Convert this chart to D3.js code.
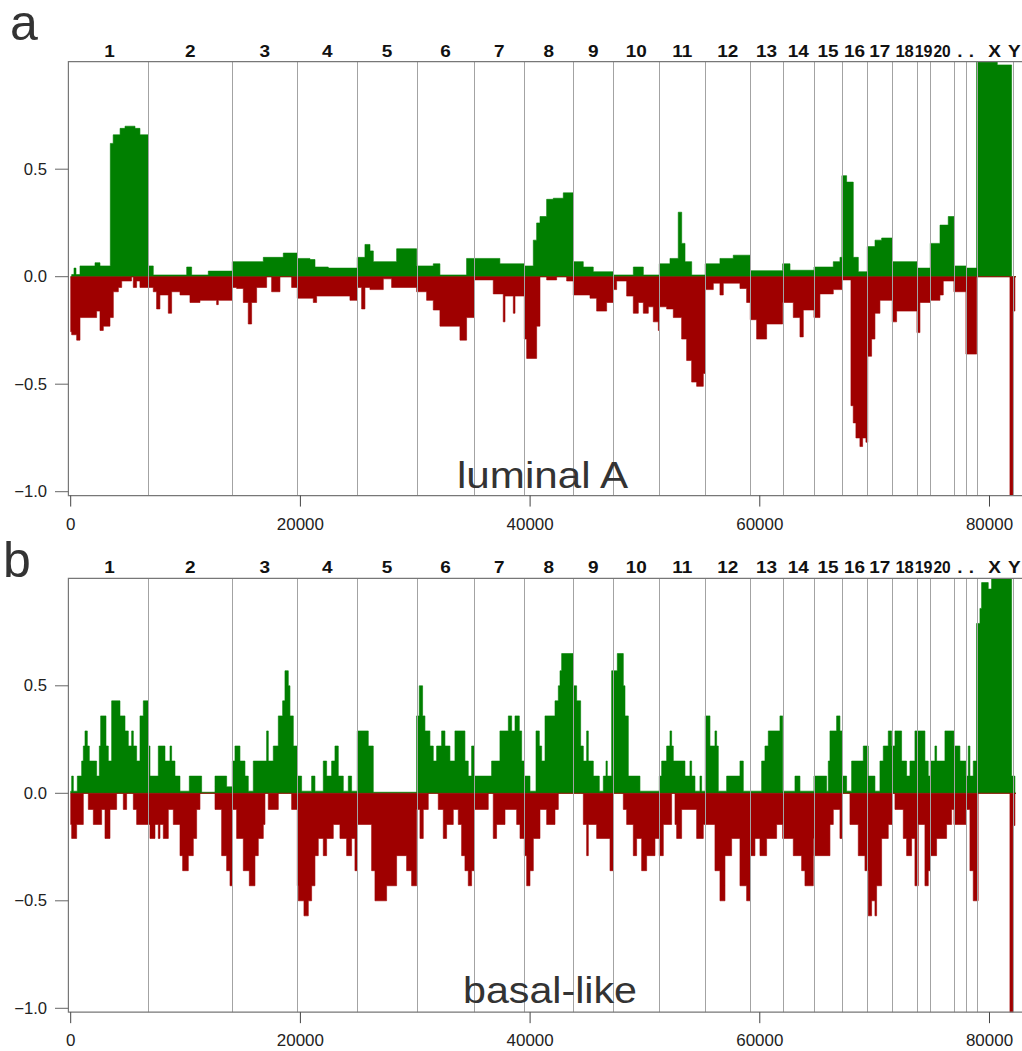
<!DOCTYPE html>
<html>
<head>
<meta charset="utf-8">
<script src="https://d3js.org/d3.v7.min.js"></script>
<style>
  body { margin: 0; background: #fff; }
  text { font-family: "Liberation Sans", Arial, sans-serif; }
</style>
</head>
<body>
<svg id="chart"></svg>
<script>
// chromosome start positions (gene index), last one is the Y start
var chromStarts = [0, 6760, 14070, 19730, 24950, 30120, 35140, 39500, 43760, 47250, 51250,
  55250, 59170, 61990, 64720, 67150, 69360, 71535, 73685, 74845, 76905, 77950, 78880, 82010];
var chromEnd = 82300;
var chromLabels = ["1", "2", "3", "4", "5", "6", "7", "8", "9", "10", "11", "12", "13", "14",
  "15", "16", "17", "18", "19", "20", ".", ".", "X", "Y"];

var xTicks = [0, 20000, 40000, 60000, 80000];
var yTicks = [-1.0, -0.5, 0.0, 0.5];

// step profiles: [start, value], each value holds until the next start
var lumAGain = [[0, 0.0], [84, 0.01], [286, 0.04], [460, 0.01], [809, 0.05], [2115, 0.065], [2550, 0.05],
  [3450, 0.62], [3700, 0.66], [4300, 0.69], [4730, 0.70], [5600, 0.69], [6030, 0.66],
  [6760, 0.05], [7190, 0.008], [10100, 0.045], [10530, 0.008], [11980, 0.026],
  [14070, 0.07], [16770, 0.09], [18510, 0.11],
  [19730, 0.085], [20830, 0.08], [21270, 0.045], [22430, 0.04],
  [24950, 0.09], [25620, 0.15], [26060, 0.12], [26350, 0.07], [28380, 0.13],
  [30120, 0.05], [31570, 0.06], [32150, 0.008], [34470, 0.085],
  [35140, 0.085], [37370, 0.06],
  [39500, 0.05], [40280, 0.17], [40570, 0.25], [40860, 0.28], [41440, 0.36], [42020, 0.365], [42890, 0.39],
  [43760, 0.07], [44630, 0.045], [45500, 0.023],
  [47250, 0.008], [48990, 0.045], [49860, 0.008],
  [51250, 0.06], [52180, 0.085], [52900, 0.30], [53200, 0.155], [53490, 0.07], [54070, 0.008],
  [55250, 0.06], [56530, 0.085], [57690, 0.1],
  [59170, 0.028],
  [61990, 0.06], [62630, 0.03],
  [64720, 0.045], [66400, 0.07], [66980, 0.09],
  [67150, 0.47], [67560, 0.44], [68140, 0.09], [68580, 0.023],
  [69360, 0.14], [70030, 0.17], [70610, 0.18],
  [71535, 0.07],
  [73685, 0.04],
  [74845, 0.155], [75690, 0.24], [76410, 0.28],
  [76905, 0.05],
  [77950, 0.04],
  [78880, 1.05], [80680, 0.985], [81924, 0.0], [82300, 0.0]];

var lumALoss = [[0, -0.256], [84, -0.27], [520, -0.295], [810, -0.19], [2260, -0.16], [2550, -0.25],
  [2840, -0.23], [3420, -0.19], [3711, -0.07], [4150, -0.05], [4440, -0.02], [5300, 0], [5450, -0.05],
  [5740, -0.02], [6030, -0.05],
  [7190, -0.07], [7480, -0.15], [7770, -0.085], [8500, -0.17], [8790, -0.07], [9515, -0.085],
  [10385, -0.12], [11256, -0.11], [12707, -0.13], [12852, -0.11],
  [14071, -0.05], [14448, -0.055], [15029, -0.12], [15460, -0.22], [15754, -0.12], [16189, -0.05],
  [17060, 0], [17495, -0.07], [18221, 0], [19237, -0.05],
  [19730, -0.1], [21123, -0.12], [21413, -0.09], [24315, -0.11],
  [24953, -0.05], [25331, -0.15], [25621, -0.05], [26056, -0.06], [27217, -0.01], [27943, -0.05],
  [30119, -0.07], [30990, -0.11], [31570, -0.155], [32150, -0.23], [33892, -0.295], [34472, -0.19],
  [35139, -0.015], [36793, -0.08], [37664, -0.21], [37814, -0.09], [38540, -0.17], [38685, -0.09],
  [39497, -0.29], [39701, -0.38], [40571, -0.23], [40861, 0], [41442, -0.015], [42312, 0], [43183, -0.02],
  [43763, -0.085], [45214, -0.1], [45795, -0.16], [46665, -0.12],
  [47246, -0.06], [47536, -0.02], [48407, -0.09], [48987, -0.17], [49422, -0.12], [49858, -0.17],
  [50293, -0.14], [50728, -0.21], [51164, -0.25],
  [51251, -0.14], [51889, -0.15], [52469, -0.19], [53195, -0.29], [53630, -0.39], [54066, -0.49],
  [54501, -0.51], [55081, -0.45],
  [55255, -0.06], [55952, -0.03], [56532, -0.085], [56822, -0.03], [58273, -0.055], [58854, -0.12],
  [59173, -0.2], [59724, -0.29], [60595, -0.22],
  [61988, -0.12], [62917, -0.19], [63497, -0.28], [63787, -0.155],
  [64716, -0.19], [65238, -0.08], [66399, -0.06],
  [67153, -0.015], [67937, -0.6], [68137, -0.68], [68370, -0.75], [68718, -0.79], [68953, -0.75],
  [69240, -0.77], [69400, -0.37], [69736, -0.29], [70027, -0.17], [70462, -0.11],
  [71535, -0.21], [71913, -0.16],
  [73683, -0.26], [73944, -0.12],
  [74843, -0.11], [75685, -0.085], [75975, -0.02],
  [76904, -0.07],
  [77948, -0.36],
  [78877, 0], [81780, -1.05], [82040, -0.16], [82214, 0], [82300, 0]];

var basalGain = [[0, 0.01], [84, 0.08], [228, 0.01], [577, 0.08], [954, 0.15], [1099, 0.22], [1244, 0.29],
  [1447, 0.22], [1621, 0.15], [2260, 0.08], [2492, 0.22], [2608, 0.36], [3072, 0.22], [3276, 0.15],
  [3566, 0.43], [4291, 0.36], [4727, 0.29], [5017, 0.22], [5307, 0.29], [5452, 0.22], [5742, 0.15],
  [6032, 0.36], [6323, 0.43],
  [6758, 0.22], [6903, 0.08], [7628, 0.22], [8209, 0.15], [8644, 0.22], [8789, 0.15], [9080, 0.08],
  [9515, 0.01], [10327, 0.08], [11401, 0.005], [12562, 0.08], [13578, 0.03],
  [14071, 0.15], [14303, 0.22], [14738, 0.15], [15174, 0.08], [15464, 0.01], [15899, 0.15], [17060, 0.29],
  [17205, 0.15], [17640, 0.22], [18076, 0.36], [18453, 0.43], [18656, 0.57], [18946, 0.5], [19091, 0.36],
  [19382, 0.22],
  [19730, 0.08], [20107, 0.01], [20978, 0.08], [21268, 0.01], [21993, 0.15], [22284, 0.08], [22719, 0.15],
  [23009, 0.22], [23299, 0.08], [23735, 0.01], [24170, 0.08], [24460, 0.01],
  [24953, 0.29], [25911, 0.22], [26346, 0.005],
  [30119, 0.36], [30351, 0.5], [30641, 0.36], [30844, 0.29], [31280, 0.22], [31570, 0.15], [31860, 0.22],
  [32296, 0.29], [32586, 0.22], [33021, 0.15], [33456, 0.29], [34327, 0.15], [34617, 0.08], [34907, 0.22],
  [35139, 0.08], [36648, 0.15], [37374, 0.29], [38105, 0.36], [38395, 0.29], [38685, 0.36], [39062, 0.29],
  [39265, 0.15],
  [39497, 0.08], [39991, 0.01], [40513, 0.29], [40803, 0.22], [41007, 0.15], [41297, 0.36], [42167, 0.43],
  [42458, 0.5], [42603, 0.57], [42748, 0.65],
  [43763, 0.5], [44054, 0.43], [44402, 0.22], [44634, 0.15], [44924, 0.29], [45069, 0.15], [45505, 0.08],
  [46027, 0.01], [46375, 0.08], [46607, 0.15], [46723, 0.08], [47101, 0.57],
  [47594, 0.65], [48116, 0.5], [48262, 0.36], [48552, 0.08], [49567, 0.01],
  [51251, 0.08], [51454, 0.15], [51889, 0.22], [52179, 0.29], [52324, 0.22], [52469, 0.15], [53485, 0.08],
  [53920, 0.15], [54066, 0.08], [54356, 0.01], [54791, 0.08], [54936, 0.01],
  [55255, 0.36], [55662, 0.22], [56097, 0.29], [56242, 0.22], [56387, 0.01], [57113, 0.08], [58273, 0.15],
  [58564, 0.01],
  [60160, 0.15], [60450, 0.22], [60740, 0.29], [61756, 0.36],
  [61988, 0.01], [63062, 0.08], [63497, 0.01],
  [64716, 0.08], [65819, 0.01], [65964, 0.15], [66109, 0.29], [66689, 0.36], [66979, 0.29],
  [67153, 0.08], [67560, 0.01], [67995, 0.15], [69011, 0.22],
  [69446, 0.08], [70027, 0.01], [70462, 0.15], [70752, 0.22], [71187, 0.29], [71477, 0.22],
  [71768, 0.29], [72348, 0.15], [72783, 0.08], [73073, 0.15], [73508, 0.29],
  [74379, 0.15], [74669, 0.08],
  [74843, 0.15], [75250, 0.22], [75395, 0.15], [76120, 0.29],
  [76904, 0.22], [77426, 0.15],
  [77948, 0.08], [78152, 0.22], [78297, 0.08], [78587, 0.15],
  [78877, 0.79], [79168, 0.86], [79313, 0.98], [79893, 0.95], [80183, 1.05],
  [81924, 0.08], [82214, 0], [82300, 0]];

var basalLoss = [[0, -0.145], [84, -0.21], [519, -0.145], [1099, 0], [1534, -0.075], [1970, -0.145],
  [2695, -0.075], [2985, -0.21], [3421, -0.075], [4001, 0], [4581, -0.075], [4872, 0], [5452, -0.075],
  [5742, -0.145],
  [6903, -0.21], [7338, -0.145], [7628, -0.21], [7774, -0.145], [8064, -0.21], [8499, -0.075], [8934, -0.145],
  [9515, -0.29], [9747, -0.36], [10240, -0.29], [10676, -0.21], [10966, -0.075], [11256, 0], [12562, -0.075],
  [13142, -0.29], [13578, -0.36], [13868, -0.43],
  [14071, -0.075], [14448, -0.21], [15029, -0.36], [15551, -0.43], [16044, -0.29], [16335, -0.21],
  [16770, -0.145], [16915, 0], [17205, -0.075], [18076, 0], [19237, -0.075],
  [19730, -0.43], [19817, -0.5], [20310, -0.57], [20688, -0.5], [20978, -0.43], [21268, -0.29], [21558, -0.21],
  [21993, -0.29], [22284, -0.21], [22864, -0.145], [23444, -0.21], [24025, -0.29], [24460, -0.21],
  [24750, -0.36],
  [24953, -0.145], [26201, -0.36], [26492, -0.5], [27507, -0.43], [28378, -0.29], [29248, -0.36],
  [29684, -0.43],
  [30119, -0.075], [30409, -0.21], [30699, -0.075], [31135, 0], [32005, -0.075], [32441, -0.21],
  [32731, -0.145], [33311, -0.075], [33747, -0.145], [34037, -0.29], [34327, -0.36], [34617, -0.43],
  [34907, -0.36],
  [35139, -0.075], [36358, 0], [36793, -0.21], [37083, -0.145], [37814, -0.075], [38830, -0.145],
  [39120, -0.21],
  [39497, -0.29], [39701, -0.43], [39991, -0.36], [40281, -0.21], [40861, -0.075], [41442, -0.145],
  [42167, -0.075], [42458, 0],
  [44634, -0.145], [44924, -0.29], [45069, -0.145], [45795, -0.21], [46956, -0.36],
  [47246, 0], [48116, -0.075], [48407, -0.145], [48987, -0.29], [49277, -0.21], [49713, -0.36],
  [50148, -0.29], [50873, -0.21],
  [51251, -0.29], [51599, -0.145], [52324, 0], [52615, -0.145], [52760, -0.21], [53195, -0.075],
  [54501, -0.21], [55081, -0.145],
  [55255, -0.145], [56097, -0.36], [56532, -0.5], [56968, -0.29], [57548, -0.21], [58273, -0.43],
  [58854, -0.5],
  [59173, -0.29], [59579, -0.21], [60015, -0.29], [60595, -0.21], [61466, -0.145],
  [61988, -0.21], [62917, -0.29], [63642, -0.36], [63932, -0.43], [64658, -0.21],
  [64716, -0.29], [66109, -0.145], [66399, -0.075], [66979, -0.21],
  [67153, 0], [67850, -0.145], [68576, -0.29], [69156, -0.36], [69446, -0.57], [69736, -0.5], [70027, -0.57],
  [70172, -0.43], [70607, -0.21], [71187, -0.145],
  [71535, 0], [71768, -0.075], [72493, -0.21], [72783, -0.29], [73218, -0.21], [73508, -0.43],
  [73799, -0.145], [74379, -0.43], [74669, -0.36],
  [74843, -0.29], [75395, -0.21], [76266, -0.145], [76701, -0.075],
  [76904, -0.145],
  [77948, -0.075], [78297, -0.36], [78587, -0.5],
  [79013, 0], [81780, -1.05], [82040, -0.15], [82214, 0], [82300, 0]];

var width = 1022, height = 1051;
var gainColor = "#007f00", lossColor = "#9f0000";

var svg = d3.select("#chart")
  .attr("width", width)
  .attr("height", height);

var x = d3.scaleLinear().domain([-200, 82700]).range([68.4, 1020.5]);

var panels = [
  {letter: "a", name: "luminal A", top: 61.7, gain: lumAGain, loss: lumALoss,
   letterX: 10, letterY: 40, nameX: 457, nameY: 488},
  {letter: "b", name: "basal-like", top: 578.3, gain: basalGain, loss: basalLoss,
   letterX: 3, letterY: 577, nameX: 463, nameY: 1003}
];

// label centres and how much room each one has before it meets its neighbours
var ends = chromStarts.slice(1).concat([chromEnd]);
var labelX = chromLabels.map((d, j) => x((chromStarts[j] + ends[j]) / 2));
var labelRoom = labelX.map(function(cx, j) {
  var left = j > 0 ? cx - labelX[j - 1] : 40;
  var right = j < labelX.length - 1 ? labelX[j + 1] - cx : 40;
  return Math.min(left, right);
});

panels.forEach(function(p, i) {
  var y = d3.scaleLinear().domain([-1, 1]).range([p.top + 430, p.top]);
  var g = svg.append("g");
  var bottom = y(-1.018);

  g.append("clipPath").attr("id", "clip" + i)
    .append("rect")
    .attr("x", x.range()[0]).attr("y", p.top)
    .attr("width", width - x.range()[0]).attr("height", bottom - p.top);

  var area = d3.area()
    .x(d => x(d[0]))
    .y0(y(0))
    .y1(d => y(d[1]))
    .curve(d3.curveStepAfter);

  var bars = g.append("g").attr("clip-path", "url(#clip" + i + ")");
  bars.append("path").datum(p.gain)
    .attr("d", area)
    .attr("fill", gainColor)
    .attr("stroke", gainColor)
    .attr("stroke-width", 0.6);
  bars.append("path").datum(p.loss)
    .attr("d", area)
    .attr("fill", lossColor)
    .attr("stroke", lossColor)
    .attr("stroke-width", 0.6);

  // chromosome boundaries, drawn over the bars
  g.selectAll("line.chrom")
    .data(chromStarts.slice(1))
    .enter().append("line")
    .attr("class", "chrom")
    .attr("x1", d => Math.round(x(d)) + 0.5)
    .attr("x2", d => Math.round(x(d)) + 0.5)
    .attr("y1", p.top)
    .attr("y2", bottom)
    .attr("stroke", "#a3a3a3")
    .attr("stroke-width", 1);

  // frame: top, left, bottom
  g.append("path")
    .attr("d", "M" + width + "," + p.top + "H" + x.range()[0] + "V" + bottom + "H" + width)
    .attr("fill", "none")
    .attr("stroke", "#777")
    .attr("stroke-width", 1.2);

  // chromosome labels, squeezed where the chromosomes are narrow
  g.selectAll("text.chr")
    .data(chromLabels)
    .enter().append("text")
    .attr("class", "chr")
    .attr("text-anchor", "middle")
    .attr("font-weight", "bold")
    .attr("font-size", 16.5)
    .attr("fill", "#111")
    .text(d => d)
    .attr("transform", function(d, j) {
      var w = this.getComputedTextLength();
      var s = Math.min(1.15, (labelRoom[j] - 0.6) / w);
      return "translate(" + labelX[j] + "," + (p.top - 5) + ") scale(" + s + ",1)";
    });

  // y axis
  var ya = g.append("g");
  ya.selectAll("line")
    .data(yTicks).enter().append("line")
    .attr("x1", 55).attr("x2", x.range()[0])
    .attr("y1", d => y(d)).attr("y2", d => y(d))
    .attr("stroke", "#666").attr("stroke-width", 1);
  ya.selectAll("text")
    .data(yTicks).enter().append("text")
    .attr("transform", d => "translate(47," + (y(d) + 5.5) + ") scale(1.04,1)")
    .attr("text-anchor", "end")
    .attr("font-size", 16)
    .attr("fill", "#222")
    .text(d => d3.format(".1f")(d));

  // x axis
  var xa = g.append("g");
  xa.selectAll("line")
    .data(xTicks).enter().append("line")
    .attr("x1", d => x(d)).attr("x2", d => x(d))
    .attr("y1", bottom).attr("y2", bottom + 11)
    .attr("stroke", "#444").attr("stroke-width", 1);
  xa.selectAll("text")
    .data(xTicks).enter().append("text")
    .attr("transform", d => "translate(" + x(d) + "," + (bottom + 34) + ") scale(1.06,1)")
    .attr("text-anchor", "middle")
    .attr("font-size", 16)
    .attr("fill", "#222")
    .text(d => d);

  // panel letter and subtype name
  g.append("text")
    .attr("x", p.letterX).attr("y", p.letterY)
    .attr("font-size", 50)
    .attr("fill", "#333")
    .text(p.letter);
  g.append("text")
    .attr("x", p.nameX).attr("y", p.nameY)
    .attr("font-size", 36)
    .attr("fill", "#333")
    .attr("textLength", p.name === "luminal A" ? 171 : 174)
    .attr("lengthAdjust", "spacingAndGlyphs")
    .text(p.name);
});
</script>
</body>
</html>
